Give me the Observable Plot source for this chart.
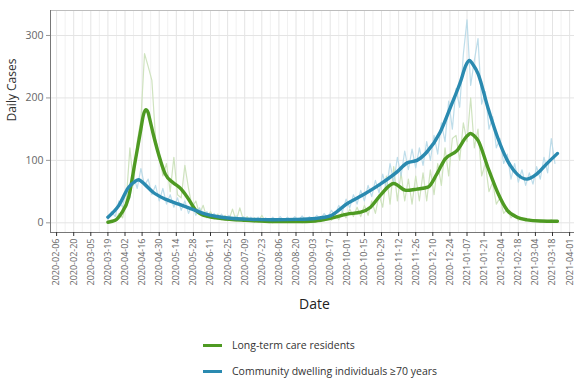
<!DOCTYPE html>
<html><head><meta charset="utf-8">
<script src="https://cdn.jsdelivr.net/npm/d3@7"></script>
<script src="https://cdn.jsdelivr.net/npm/@observablehq/plot@0.6"></script>
<style>
body{margin:0;background:#fff;font-family:"Open Sans",sans-serif;overflow:hidden}
#chart svg{display:block}
#legend{position:relative;height:53px}
.row{position:absolute;left:203px;height:14px;display:flex;align-items:center;font-size:10.5px;color:#333;white-space:nowrap}
.sw{width:19px;height:3px;margin-right:10px}
</style></head><body>
<div id="chart"></div>
<div id="legend"></div>
<script>
// ---- tick labels (every 14 days) ----
const tickLabels = ["2020-02-06","2020-02-20","2020-03-05","2020-03-19","2020-04-02","2020-04-16","2020-04-30","2020-05-14","2020-05-28","2020-06-11","2020-06-25","2020-07-09","2020-07-23","2020-08-06","2020-08-20","2020-09-03","2020-09-17","2020-10-01","2020-10-15","2020-10-29","2020-11-12","2020-11-26","2020-12-10","2020-12-24","2021-01-07","2021-01-21","2021-02-04","2021-02-18","2021-03-04","2021-03-18","2021-04-01"];
const yTicks = [0, 100, 200, 300];

// ---- series names ----
const seriesNames = ["Long-term care residents", "Community dwelling individuals \u226570 years"];

// ---- raw daily counts (sampled every 3 days from 2020-03-19) ----
const rawStart = "2020-03-19";
const rawLTC = [2,5,3,15,8,35,120,60,130,165,
  271,250,228,135,110,75,95,50,105,45,
  40,92,55,25,35,14,28,8,18,6,
  14,5,12,4,22,3,24,4,10,2,
  8,1,12,2,6,0,4,1,3,0,
  5,1,4,0,5,1,6,2,8,3,
  10,4,14,5,18,8,22,10,25,10,
  28,12,35,15,45,25,75,30,90,35,
  80,35,70,30,75,35,80,35,85,45,
  95,60,120,75,135,140,100,160,130,200,
  120,150,75,95,50,65,30,40,15,22,
  8,14,4,8,3,6,2,5,1,4,
  2,5,2];
const rawCom = [5,18,10,35,25,55,40,75,55,87,
  60,70,45,60,35,55,30,45,25,40,
  20,35,15,30,12,24,10,18,8,15,
  6,14,5,12,4,11,4,10,3,9,
  3,9,2,8,3,9,3,10,4,9,
  3,10,4,11,4,10,4,12,6,15,
  8,20,12,28,18,38,24,45,30,52,
  35,60,42,68,48,78,55,95,65,105,
  75,115,85,118,88,120,92,130,100,140,
  110,160,130,195,150,215,185,270,325,220,
  260,295,190,210,150,170,120,135,95,110,
  70,95,65,85,60,80,62,90,70,105,
  80,135,95];

// ---- smoothed curves ----
const ltcDates = ["2020-03-19","2020-03-25","2020-03-30","2020-04-05","2020-04-10","2020-04-15","2020-04-17","2020-04-19","2020-04-21","2020-04-22","2020-04-25","2020-05-01","2020-05-05","2020-05-11","2020-05-18","2020-05-23","2020-05-30","2020-06-07","2020-06-20","2020-07-10","2020-08-01","2020-08-20","2020-09-05","2020-09-17","2020-10-01","2020-10-12","2020-10-20","2020-10-28","2020-11-08","2020-11-18","2020-11-27","2020-12-06","2020-12-13","2020-12-20","2020-12-30","2021-01-07","2021-01-10","2021-01-13","2021-01-16","2021-01-24","2021-02-01","2021-02-09","2021-02-17","2021-02-25","2021-03-08","2021-03-22"];
const ltcSmooth = [1,4,15,41,95,150,172,181,176,168,143,100,78,65,54,41,20,11,7,4,2,2,3,7,14,17,25,44,63,52,54,57,77,102,116,139,143,139,132,89,49,20,9,4.8,3,2.6];
const comDates = ["2020-03-19","2020-03-28","2020-04-05","2020-04-10","2020-04-13","2020-04-15","2020-04-18","2020-04-25","2020-05-05","2020-05-16","2020-05-27","2020-06-07","2020-06-20","2020-07-10","2020-08-01","2020-08-20","2020-09-05","2020-09-17","2020-10-01","2020-10-14","2020-10-28","2020-11-11","2020-11-19","2020-11-27","2020-12-05","2020-12-16","2020-12-24","2021-01-02","2021-01-06","2021-01-09","2021-01-12","2021-01-16","2021-01-24","2021-02-01","2021-02-09","2021-02-17","2021-02-25","2021-03-05","2021-03-14","2021-03-22"];
const comSmooth = [9,28,57,66,69,67,62,49,38,30,22,14,9,6,5,5.5,7,11,31,45,62,82,96,100,113,145,183,228,252,260,253,239,185,137,100,78,70,78,96,111];

const colors = ["#4e9a22", "#2a8ab0"];
const lightColors = ["#cfe3bf", "#b3d7e6"];

const parse = d3.utcParse("%Y-%m-%d");
const x0 = parse("2020-02-01"), x1 = parse("2021-04-05");
const yMin = -15.5, yMax = 340;
const tickDates = tickLabels.map(parse);
const minorDates = tickDates.map(d => d3.utcDay.offset(d, 7)).filter(d => d < x1);
const rawDates = rawLTC.map((_, i) => d3.utcDay.offset(parse(rawStart), 3 * i));
const rawL = rawLTC.map((v, i) => ({date: rawDates[i], v}));
const rawC = rawCom.map((v, i) => ({date: rawDates[i], v}));
const smL = ltcDates.map((d, i) => ({date: parse(d), v: ltcSmooth[i]}));
const smC = comDates.map((d, i) => ({date: parse(d), v: comSmooth[i]}));

const plot = Plot.plot({
  width: 574, height: 325,
  marginLeft: 50, marginRight: 0, marginTop: 10, marginBottom: 93,
  style: {fontFamily: "'Open Sans', sans-serif", background: "#fff", overflow: "visible"},
  x: {type: "utc", domain: [x0, x1]},
  y: {domain: [yMin, yMax]},
  marks: [
    Plot.ruleX(minorDates, {stroke: "#f1f1f1"}),
    Plot.ruleX(tickDates, {stroke: "#e4e4e4"}),
    Plot.ruleY(yTicks, {stroke: "#e4e4e4"}),
    Plot.frame({stroke: "#bdbdbd"}),
    Plot.line(rawL, {x: "date", y: "v", stroke: lightColors[0], strokeWidth: 1.2}),
    Plot.line(rawC, {x: "date", y: "v", stroke: lightColors[1], strokeWidth: 1.2, strokeOpacity: 0.85}),
    Plot.line(smL, {x: "date", y: "v", stroke: colors[0], strokeWidth: 3.4, curve: "monotone-x"}),
    Plot.line(smC, {x: "date", y: "v", stroke: colors[1], strokeWidth: 3.4, curve: "monotone-x"}),
    Plot.ruleX([x0], {stroke: "#777"}),
    Plot.ruleY([yMin], {stroke: "#777"}),
    Plot.axisX({ticks: tickDates, tickFormat: d3.utcFormat("%Y-%m-%d"), tickRotate: -90, fontSize: 9, tickSize: 4, tickPadding: 2, fill: "#666", stroke: "#333", label: null}),
    Plot.axisY({ticks: yTicks, fontSize: 10.5, tickSize: 4, tickPadding: 3, fill: "#666", stroke: "#999", label: null}),
    Plot.text(["Daily Cases"], {text: d => d, frameAnchor: "left", dx: -38, rotate: -90, fontSize: 12, fill: "#333"}),
    Plot.text(["Date"], {text: d => d, frameAnchor: "bottom", dx: 2, dy: 76, fontSize: 14, fill: "#222"})
  ]
});
document.getElementById("chart").appendChild(plot);

const legend = document.getElementById("legend");
seriesNames.forEach((name, i) => {
  const row = document.createElement("div");
  row.className = "row";
  row.style.top = (13 + 26 * i) + "px";
  const sw = document.createElement("span");
  sw.className = "sw";
  sw.style.background = colors[i];
  const t = document.createElement("span");
  t.textContent = name;
  row.appendChild(sw); row.appendChild(t);
  legend.appendChild(row);
});
</script>
</body></html>
